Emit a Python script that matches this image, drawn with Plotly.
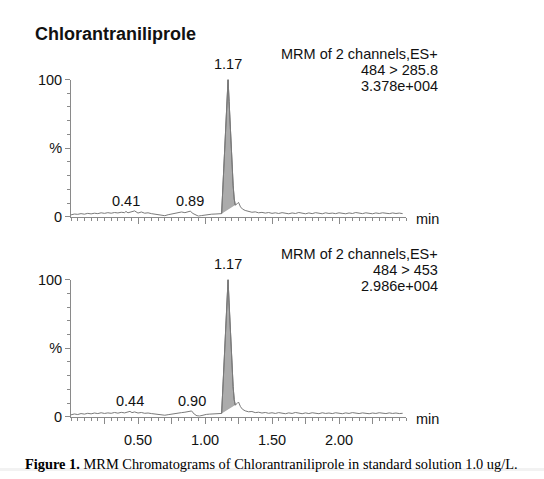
import plotly.graph_objects as go

W, H = 544, 479

# ---------------- data ----------------
time_a = [0.00, 0.025, 0.05, 0.075, 0.10, 0.125, 0.15, 0.175, 0.20, 0.225, 0.25, 0.275, 0.30, 0.325, 0.35,
          0.375, 0.40, 0.41, 0.425, 0.45, 0.475, 0.50, 0.525, 0.55, 0.575, 0.60, 0.625, 0.65, 0.675, 0.70,
          0.725, 0.75, 0.775, 0.80, 0.825, 0.85, 0.875, 0.89, 0.91, 0.93, 0.95, 0.975, 1.00, 1.025, 1.05,
          1.075, 1.10, 1.124, 1.14, 1.155, 1.165, 1.172, 1.18, 1.19, 1.20, 1.21, 1.218, 1.226, 1.24, 1.25,
          1.265, 1.28, 1.30, 1.325, 1.35, 1.375, 1.40, 1.425, 1.45, 1.475, 1.50, 1.525, 1.55, 1.575, 1.60,
          1.625, 1.65, 1.675, 1.70, 1.725, 1.75, 1.775, 1.80, 1.825, 1.85, 1.875, 1.90, 1.925, 1.95, 1.975,
          2.00, 2.025, 2.05, 2.075, 2.10, 2.125, 2.15, 2.175, 2.20, 2.225, 2.25, 2.275, 2.30, 2.325, 2.35,
          2.375, 2.40, 2.425, 2.45, 2.475]
pct_a = [1.4, 2.0, 1.8, 2.3, 1.9, 2.5, 2.1, 2.6, 2.3, 2.9, 2.5, 3.0, 2.6, 3.1, 2.8,
         3.3, 3.0, 3.9, 2.9, 3.4, 4.3, 2.7, 3.5, 2.6, 2.9, 2.3, 2.0, 1.6, 1.0, 0.8,
         1.5, 2.0, 2.6, 3.1, 3.5, 3.0, 3.8, 4.1, 2.4, 1.2, 0.5, 0.9, 1.4, 1.7, 1.9,
         2.0, 2.1, 2.3, 35.0, 68.0, 90.0, 100.0, 84.0, 62.0, 41.0, 23.0, 13.0, 8.5, 9.5, 10.5,
         7.2, 5.6, 4.6, 3.8, 3.3, 3.6, 2.9, 3.2, 2.7, 3.1, 2.5, 2.9, 2.4, 3.0, 2.6,
         2.2, 2.8, 2.4, 3.1, 2.5, 2.2, 2.8, 2.3, 3.0, 2.6, 2.2, 2.9, 2.4, 2.7, 2.3,
         2.9, 2.5, 2.2, 2.8, 2.4, 3.1, 2.5, 2.3, 2.9, 2.6, 2.2, 2.8, 2.4, 2.9, 2.5,
         2.3, 2.8, 2.4, 2.7, 2.3]

time_b = [0.00, 0.025, 0.05, 0.075, 0.10, 0.125, 0.15, 0.175, 0.20, 0.225, 0.25, 0.275, 0.30, 0.325, 0.35,
          0.375, 0.40, 0.425, 0.44, 0.455, 0.475, 0.50, 0.525, 0.55, 0.575, 0.60, 0.625, 0.65, 0.675, 0.70,
          0.725, 0.75, 0.775, 0.80, 0.825, 0.85, 0.875, 0.90, 0.92, 0.94, 0.96, 0.985, 1.01, 1.035, 1.06,
          1.085, 1.105, 1.124, 1.14, 1.155, 1.165, 1.172, 1.18, 1.19, 1.20, 1.21, 1.218, 1.226, 1.24, 1.25,
          1.265, 1.28, 1.30, 1.325, 1.35, 1.375, 1.40, 1.425, 1.45, 1.475, 1.50, 1.525, 1.55, 1.575, 1.60,
          1.625, 1.65, 1.675, 1.70, 1.725, 1.75, 1.775, 1.80, 1.825, 1.85, 1.875, 1.90, 1.925, 1.95, 1.975,
          2.00, 2.025, 2.05, 2.075, 2.10, 2.125, 2.15, 2.175, 2.20, 2.225, 2.25, 2.275, 2.30, 2.325, 2.35,
          2.375, 2.40, 2.425, 2.45, 2.475]
pct_b = [1.5, 2.1, 1.7, 2.4, 2.0, 2.6, 2.2, 2.8, 2.4, 3.0, 2.5, 2.9, 2.6, 3.2, 2.7,
         3.3, 2.9, 3.4, 4.0, 3.1, 3.6, 2.8, 3.2, 2.6, 2.8, 2.4, 2.1, 1.7, 1.4, 1.2,
         1.6, 2.1, 2.4, 2.8, 3.1, 3.4, 3.6, 4.3, 2.0, 0.8, 0.6, 1.3, 1.8, 2.0, 2.2,
         2.3, 2.4, 2.5, 34.0, 67.0, 89.0, 100.0, 83.0, 61.0, 40.0, 22.0, 12.5, 8.6, 9.8, 10.8,
         7.4, 5.5, 4.4, 3.7, 3.9, 3.1, 3.4, 2.8, 3.2, 2.6, 3.0, 2.5, 3.1, 2.7, 2.3,
         2.9, 2.5, 3.2, 2.6, 2.3, 2.9, 2.4, 3.0, 2.6, 2.3, 3.0, 2.5, 2.8, 2.4, 3.0,
         2.6, 2.3, 2.9, 2.5, 3.1, 2.6, 2.4, 2.9, 2.6, 2.3, 2.8, 2.5, 3.0, 2.6, 2.4,
         2.9, 2.5, 2.8, 2.4, 2.6]

peak_start = 1.124
peak_end = 1.226
peak_rt = 1.17

labels_a = [(0.41, 3.9), (0.89, 4.1)]
labels_b = [(0.44, 4.0), (0.90, 4.3)]

info_a = ["MRM of 2 channels,ES+", "484 > 285.8", "3.378e+004"]
info_b = ["MRM of 2 channels,ES+", "484 > 453", "2.986e+004"]

title = "Chlorantraniliprole"
caption_bold = "Figure 1."
caption_rest = " MRM Chromatograms of Chlorantraniliprole in standard solution 1.0 ug/L."

x_tickvals = [0.25, 0.50, 0.75, 1.00, 1.25, 1.50, 1.75, 2.00, 2.25]
x_ticktext = ["", "0.50", "", "1.00", "", "1.50", "", "2.00", ""]
y_tickvals = [0, 50, 100]
y_ticktext = ["0", "%", "100"]

# ---------------- layout helpers ----------------
def px_x(p):
    return p / W

def px_y(p):
    return 1 - p / H

FONT = "Liberation Sans, Arial, Helvetica, sans-serif"
LINE = "#7a7a7a"
AX = "#8a8a8a"

x_dom = [px_x(71), px_x(406)]
panels = [
    dict(t=time_a, v=pct_a, labels=labels_a, info=info_a, y0=216, y100=74, xa="x", ya="y", showx=False),
    dict(t=time_b, v=pct_b, labels=labels_b, info=info_b, y0=423, y100=281, xa="x2", ya="y2", showx=True),
]

fig = go.Figure()
annotations = []

for i, p in enumerate(panels):
    t, v = p["t"], p["v"]
    # integrated peak region
    idx = [k for k in range(len(t)) if peak_start - 1e-9 <= t[k] <= peak_end + 1e-9]
    fx = [t[k] for k in idx]
    fy = [v[k] for k in idx]
    fig.add_trace(go.Scatter(x=fx, y=fy, mode="lines", fill="toself", fillcolor="#ababab",
                             line=dict(color="#6e6e6e", width=1), xaxis=p["xa"], yaxis=p["ya"],
                             showlegend=False, hoverinfo="skip"))
    fig.add_trace(go.Scatter(x=t, y=v, mode="lines", line=dict(color=LINE, width=1),
                             xaxis=p["xa"], yaxis=p["ya"], showlegend=False, cliponaxis=False))

    # peak labels
    yref = p["ya"]
    annotations.append(dict(x=peak_rt, y=100, xref=p["xa"], yref=yref, text="1.17", showarrow=False,
                            yanchor="bottom", yshift=6, font=dict(family=FONT, size=14.5, color="#111")))
    for (rt, h) in p["labels"]:
        annotations.append(dict(x=rt, y=h, xref=p["xa"], yref=yref, text=f"{rt:.2f}", showarrow=False,
                                yanchor="bottom", yshift=0, font=dict(family=FONT, size=14.5, color="#111")))
    # info block
    top = p["y0"] - 216 + 47.5
    for j, s in enumerate(p["info"]):
        annotations.append(dict(x=px_x(440), y=px_y(top + j * 16.4), xref="paper", yref="paper", text=s,
                                showarrow=False, xanchor="right", yanchor="middle",
                                font=dict(family=FONT, size=14.5, color="#111")))
    # min
    annotations.append(dict(x=px_x(414), y=px_y(p["y0"] + 2), xref="paper", yref="paper", text="min",
                            showarrow=False, xanchor="left", yanchor="middle",
                            font=dict(family=FONT, size=14.5, color="#111")))

    xaxis = dict(domain=x_dom, range=[0, 2.5], showgrid=False, zeroline=False, showline=True,
                 linecolor=AX, linewidth=1, ticks="outside", ticklen=6, tickcolor=AX, tickwidth=1,
                 tickmode="array", tickvals=x_tickvals, ticktext=x_ticktext, showticklabels=p["showx"],
                 tickfont=dict(family=FONT, size=14.5, color="#111"), ticklabelstandoff=4,
                 minor=dict(ticks="outside", ticklen=3, dtick=0.05, tick0=0, tickcolor=AX, showgrid=False),
                 anchor=p["ya"], fixedrange=True)
    yaxis = dict(domain=[px_y(p["y0"]), px_y(p["y100"])], range=[0, 100], showgrid=False, zeroline=False,
                 showline=True, linecolor=AX, linewidth=1, ticks="outside", ticklen=5, tickcolor=AX,
                 tickmode="array", tickvals=y_tickvals, ticktext=y_ticktext,
                 tickfont=dict(family=FONT, size=14.5, color="#111"),
                 minor=dict(ticks="outside", ticklen=3, dtick=10, tick0=0, tickcolor=AX, showgrid=False),
                 anchor=p["xa"], fixedrange=True)
    if i == 0:
        fig.update_layout(xaxis=xaxis, yaxis=yaxis)
    else:
        fig.update_layout(xaxis2=xaxis, yaxis2=yaxis)

annotations.append(dict(x=px_x(33), y=px_y(27), xref="paper", yref="paper", text=f"<b>{title}</b>",
                        showarrow=False, xanchor="left", yanchor="middle",
                        font=dict(family=FONT, size=18, color="#111")))
annotations.append(dict(x=px_x(23), y=px_y(472), xref="paper", yref="paper",
                        text=f"<b>{caption_bold}</b>{caption_rest}", showarrow=False,
                        xanchor="left", yanchor="middle",
                        font=dict(family="Liberation Serif, Times New Roman, serif", size=14.4, color="#000")))

fig.update_layout(
    width=W, height=H, margin=dict(l=0, r=0, t=0, b=0),
    paper_bgcolor="white", plot_bgcolor="white",
    annotations=annotations,
    shapes=[dict(type="rect", xref="paper", yref="paper", x0=0, x1=1, y0=0, y1=px_y(476),
                 fillcolor="#f2f2f2", line=dict(width=0), layer="below")],
    showlegend=False,
)

fig.write_html("out.html", config={"displayModeBar": False})
